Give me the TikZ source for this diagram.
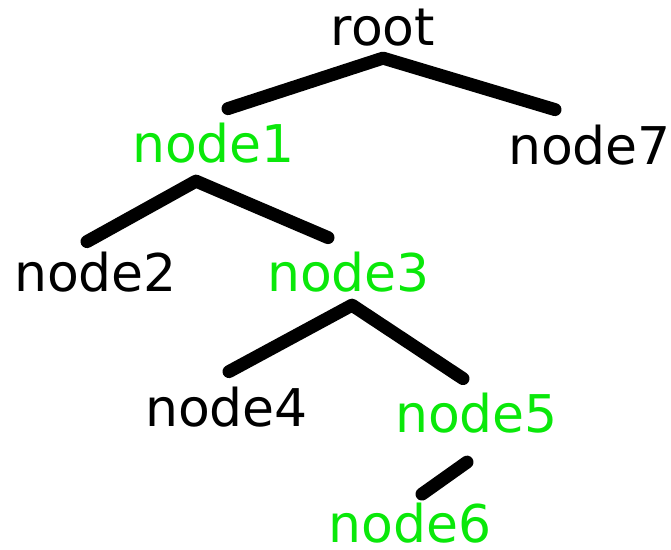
\documentclass[tikz,border=0pt]{standalone}
\usepackage{fontspec}
\setmainfont{DejaVu Sans}
\usepackage{tikz}
\usetikzlibrary{calc}
\definecolor{mygreen}{RGB}{10,232,10}
\tikzset{
    word/.style={anchor=base, inner sep=0pt, font=\fontsize{26pt}{30pt}\selectfont},
    inner/.style={word, text=mygreen},
    leaf/.style={word, text=black},
    branch/.style={line width=6.5pt, line cap=round, line join=round}
}

\begin{document}
\begin{tikzpicture}[x=0.5pt, y=-0.5pt]
        \useasboundingbox (0,0) rectangle (671,550);

        \path
            (383,46) node[leaf] (root) {root}
            (213.5,163) node[inner] (node1) {node1}
            (589.5,165) node[leaf] (node7) {node7}
            (95.5,292) node[leaf] (node2) {node2}
            (348.5,292) node[inner] (node3) {node3}
            (226.5,427) node[leaf] (node4) {node4}
            (476.5,433) node[inner] (node5) {node5}
            (410,543) node[inner] (node6) {node6};

        % root
        \draw[branch] ([shift={(14.5,-14.5)}]node1.north) -- ([shift={(0,11)}]root.south) -- ([shift={(-34.5,-15.5)}]node7.north);
        % node1
        \draw[branch] ([shift={(-8.5,-10.5)}]node2.north) -- ([shift={(-17.5,17)}]node1.south) -- ([shift={(-20.5,-14.5)}]node3.north);
        % node3
        \draw[branch] ([shift={(2.5,-15.5)}]node4.north) -- ([shift={(3.5,12)}]node3.south) -- ([shift={(-13.5,-14.5)}]node5.north);
        % node5
        \draw[branch] ([shift={(-9.5,28)}]node5.south) -- ([shift={(12,-9)}]node6.north);
    \end{tikzpicture}
\end{document}
